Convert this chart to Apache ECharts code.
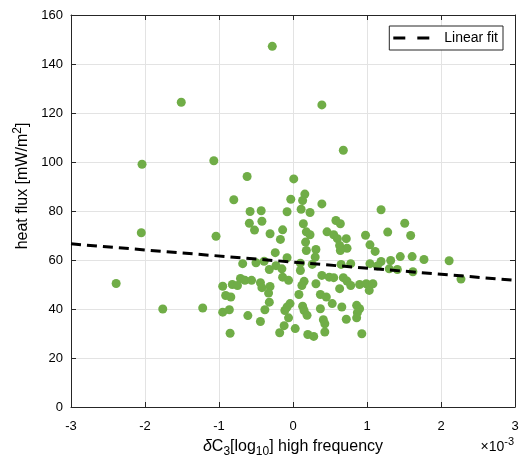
<!DOCTYPE html>
<html>
<head>
<meta charset="utf-8">
<script src="https://cdn.jsdelivr.net/npm/echarts@6/dist/echarts.min.js"></script>
<style>
  html, body { margin: 0; padding: 0; background: #fff; }
  #main { width: 526px; height: 466px; }
</style>
</head>
<body>
<div id="main"></div>
<script>
// delta C3 (x 1e-3) vs heat flux
const xRange = [-3, 3];
const yRange = [0, 160];

const points = [
  [-0.28, 147.2], [-1.51, 124.4], [-2.04, 99.1], [-1.07, 100.5], [-0.62, 94.1],
  [-0.80, 84.6], [-0.58, 79.8], [-0.43, 80.1], [-0.08, 79.7], [0.01, 93.1],
  [0.39, 123.3], [0.68, 104.8], [-0.03, 84.8], [0.16, 86.9], [0.13, 84.3],
  [0.11, 80.7], [0.23, 79.4], [0.39, 82.9], [1.19, 80.5], [-0.59, 75.0],
  [-0.42, 75.8], [-0.52, 72.2], [-0.31, 70.7], [-0.14, 72.3], [-0.17, 68.4],
  [-2.05, 71.1], [-1.04, 69.7], [-0.24, 63.0], [-0.08, 60.9], [-0.68, 58.5],
  [-0.50, 58.9], [-0.39, 59.5], [-0.32, 56.1], [-0.23, 57.7], [-0.15, 56.4],
  [-0.14, 53.0], [-0.06, 51.7], [-2.39, 50.4], [-0.95, 49.3], [-0.82, 50.0],
  [-0.75, 49.6], [-0.71, 52.5], [-0.65, 51.7], [-0.56, 51.7], [-0.44, 50.7],
  [-0.42, 48.7], [-0.31, 49.2], [-0.33, 46.5], [-0.91, 45.5], [-0.84, 44.9],
  [-0.32, 42.8], [-0.38, 39.7], [-1.76, 40.0], [-1.22, 40.4], [-0.95, 38.7],
  [-0.86, 39.7], [-0.61, 37.3], [-0.44, 34.9], [-0.11, 39.4], [-0.04, 42.2],
  [-0.12, 33.2], [-0.18, 30.3], [-0.85, 30.1], [0.58, 76.1], [0.64, 74.8],
  [1.51, 75.0], [0.14, 74.8], [0.18, 71.5], [0.23, 70.3], [0.46, 71.5],
  [0.55, 70.3], [0.60, 68.7], [0.72, 68.7], [0.98, 70.1], [1.28, 71.4],
  [1.59, 70.0], [0.17, 67.3], [0.63, 65.9], [0.73, 64.8], [1.04, 66.2],
  [0.18, 63.9], [0.31, 64.3], [0.64, 63.9], [1.11, 63.5], [0.30, 61.2],
  [0.10, 58.7], [0.26, 58.2], [0.65, 58.2], [0.78, 58.5], [1.04, 58.5],
  [1.19, 59.4], [1.32, 59.8], [1.45, 61.4], [1.61, 61.4], [1.77, 60.2],
  [2.11, 59.7], [1.14, 57.6], [1.30, 56.4], [1.41, 56.1], [1.62, 55.2],
  [2.27, 52.2], [0.10, 55.7], [0.15, 51.3], [0.12, 49.6], [0.31, 50.3],
  [0.39, 53.7], [0.49, 53.0], [0.55, 52.8], [0.68, 52.8], [0.73, 51.4],
  [0.78, 49.6], [0.90, 50.0], [0.99, 50.3], [1.03, 47.6], [1.08, 50.3],
  [0.63, 48.3], [0.37, 45.9], [0.45, 44.9], [0.53, 42.2], [0.08, 45.9],
  [-0.08, 40.8], [0.13, 41.1], [0.15, 39.4], [0.19, 37.4], [-0.06, 36.4],
  [0.37, 40.1], [0.66, 40.8], [0.86, 41.5], [0.90, 40.1], [0.87, 38.5],
  [0.86, 36.4], [0.72, 35.8], [0.41, 35.6], [0.43, 34.0], [0.03, 32.0],
  [0.20, 29.6], [0.28, 28.8], [0.43, 30.6], [0.93, 29.9]
];

// linear fit end points
const fitLine = [[-3, 66.6], [3, 51.7]];

const font = 'Liberation Sans, Arial, Helvetica, sans-serif';
const axisColor = '#262626';

let chart = echarts.init(document.getElementById('main'));

// top / right axes only give the closed box with inner ticks
const boxAxis = {
    type: 'value',
    axisLine: { show: true, onZero: false, lineStyle: { color: axisColor, width: 1 } },
    axisTick: { show: true, inside: true, length: 5, lineStyle: { color: axisColor } },
    axisLabel: { show: false },
    splitLine: { show: false }
};

const nameRich = {
    it: { fontFamily: font, fontSize: 16, fontStyle: 'italic', color: '#000' },
    sub: { fontFamily: font, fontSize: 12, color: '#000', padding: [10, 0, 0, 0] },
    sup: { fontFamily: font, fontSize: 12, color: '#000', padding: [0, 0, 9, 0] }
};

const option = {
    animation: false,
    grid: { left: 71, right: 11, top: 15, bottom: 59 },
    legend: {
        data: ['Linear fit'],
        right: 23, top: 26,
        backgroundColor: '#fff',
        borderColor: '#262626', borderWidth: 1,
        padding: [5, 5, 5, 4],
        icon: 'path://M0,0H12V3H0Z M24,0H36V3H24Z',
        itemWidth: 36, itemHeight: 3,
        textStyle: { fontFamily: font, fontSize: 14, color: '#000', padding: [0, 0, 0, 10] }
    },
    xAxis: [
        {
            type: 'value', min: xRange[0], max: xRange[1], interval: 1,
            name: '{it|δ}C{sub|3}[log{sub|10}] high frequency',
            nameLocation: 'middle', nameGap: 29,
            nameTextStyle: { fontFamily: font, fontSize: 16, color: '#000', rich: nameRich },
            axisLine: { onZero: false, lineStyle: { color: axisColor } },
            axisTick: { inside: true, length: 5, lineStyle: { color: axisColor } },
            axisLabel: { fontFamily: font, fontSize: 13, color: '#000', margin: 13 },
            splitLine: { show: true, lineStyle: { color: '#e3e3e3', width: 1 } }
        },
        Object.assign({}, boxAxis, { position: 'top', min: xRange[0], max: xRange[1], interval: 1 })
    ],
    yAxis: [
        {
            type: 'value', min: yRange[0], max: yRange[1], interval: 20,
            name: 'heat flux [mW/m{sup|2}]',
            nameLocation: 'middle', nameGap: 29,
            nameTextStyle: { fontFamily: font, fontSize: 16, color: '#000', rich: nameRich, padding: [0, 0, 0, 50] },
            axisLine: { show: true, onZero: false, lineStyle: { color: axisColor } },
            axisTick: { show: true, inside: true, length: 5, lineStyle: { color: axisColor } },
            axisLabel: { fontFamily: font, fontSize: 13, color: '#000', margin: 8 },
            splitLine: { show: true, lineStyle: { color: '#e3e3e3', width: 1 } }
        },
        Object.assign({}, boxAxis, { position: 'right', min: yRange[0], max: yRange[1], interval: 20 })
    ],
    graphic: [
        {
            type: 'text', right: 12, top: 436,
            style: {
                text: '×10{sup|-3}',
                fontFamily: font, fontSize: 14, fill: '#000',
                rich: { sup: { fontFamily: font, fontSize: 11, fill: '#000', padding: [0, 0, 11, 0] } }
            }
        }
    ],
    series: [
        {
            name: 'data',
            type: 'scatter',
            data: points,
            symbolSize: 9,
            itemStyle: { color: '#70AD47', opacity: 1 },
            z: 2
        },
        {
            name: 'Linear fit',
            type: 'line',
            data: fitLine,
            symbol: 'none',
            lineStyle: { color: '#000', width: 3, type: [10, 6] },
            itemStyle: { color: '#000' },
            z: 3
        }
    ]
};

chart.setOption(option);
</script>
</body>
</html>
